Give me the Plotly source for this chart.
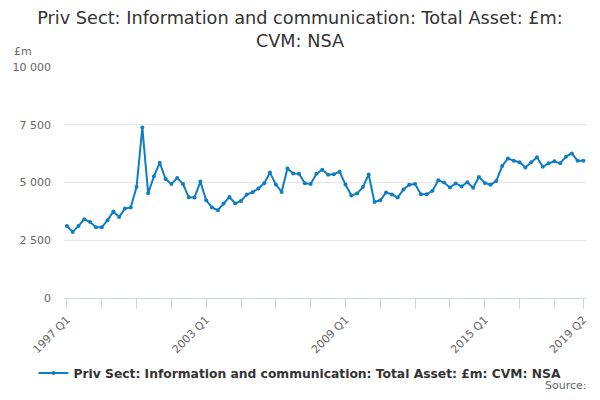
import plotly.graph_objects as go

# quarters 1997 Q1 .. 2019 Q2
quarters = [f"{y} Q{q}" for y in range(1997, 2020) for q in range(1, 5)][:90]

total_asset = [
    3120, 2860, 3120, 3410, 3290, 3060, 3060, 3370, 3740, 3510,
    3870, 3920, 4800, 7380, 4530, 5270, 5860, 5150, 4930, 5200,
    4940, 4360, 4350, 5040, 4230, 3920, 3800, 4090, 4370, 4090,
    4200, 4480, 4580, 4740, 4970, 5430, 4910, 4590, 5610, 5390,
    5375, 4970, 4940, 5375, 5550, 5340, 5360, 5460, 4910, 4440,
    4520, 4800, 5350, 4160, 4230, 4570, 4480, 4350, 4700, 4900,
    4930, 4490, 4490, 4640, 5100, 5000, 4780, 4960, 4830, 5010,
    4770, 5240, 4980, 4900, 5070, 5710, 6040, 5940, 5880, 5650,
    5880, 6090, 5680, 5830, 5920, 5830, 6120, 6260, 5940, 5940,
]

labelled = ["1997 Q1", "2003 Q1", "2009 Q1", "2015 Q1", "2019 Q2"]
tick_cats = quarters[::6] + [quarters[-1]]
tick_text = [q if q in labelled else "" for q in tick_cats]

y_ticks = [0, 2500, 5000, 7500, 10000]
y_text = ["0", "2 500", "5 000", "7 500", "10 000"]

series_name = "Priv Sect: Information and communication: Total Asset: £m: CVM: NSA"
line_color = "#0f7dc2"
font = "DejaVu Sans"

fig = go.Figure()
fig.add_trace(
    go.Scatter(
        x=quarters,
        y=total_asset,
        mode="lines+markers",
        name=series_name,
        line=dict(color=line_color, width=2),
        marker=dict(color=line_color, size=4),
    )
)

fig.update_xaxes(
    type="category",
    range=[-0.5, 89.45],
    automargin=False,
    tickmode="array",
    tickvals=tick_cats,
    ticktext=tick_text,
    tickangle=-45,
    ticks="outside",
    ticklen=10,
    tickcolor="#ccd6eb",
    showline=True,
    linecolor="#ccd6eb",
    showgrid=False,
    tickfont=dict(family=font, size=11, color="#666666"),
)
fig.update_yaxes(
    range=[0, 10000],
    automargin=False,
    tickmode="array",
    tickvals=y_ticks,
    ticktext=y_text,
    showgrid=True,
    gridcolor="#e6e6e6",
    zeroline=False,
    showline=False,
    ticks="",
    ticklabelstandoff=12,
    tickfont=dict(family=font, size=11, color="#666666"),
)

# page body has an 8px margin, so the figure is sized to fit inside it
fig.update_layout(
    width=584,
    height=384,
    plot_bgcolor="white",
    paper_bgcolor="white",
    margin=dict(l=56, r=6, t=59, b=94, autoexpand=False),
    title=dict(
        text="Priv Sect: Information and communication: Total Asset: £m:<br>CVM: NSA",
        x=0.5,
        xanchor="center",
        y=0.958,
        yanchor="top",
        font=dict(family=font, size=17.7, color="#333333"),
    ),
    showlegend=True,
    legend=dict(
        orientation="h",
        x=0.452,
        xanchor="center",
        y=-0.325,
        yanchor="middle",
        itemwidth=30,
        font=dict(family=font, size=12.3, color="#333333", weight="bold"),
    ),
    annotations=[
        dict(
            text="£m",
            xref="paper",
            yref="paper",
            x=-0.0996,
            y=1.065,
            xanchor="left",
            yanchor="middle",
            showarrow=False,
            font=dict(family=font, size=11, color="#666666"),
        ),
        dict(
            text="Source:",
            xref="paper",
            yref="paper",
            x=1.0057,
            y=-0.377,
            xanchor="right",
            yanchor="middle",
            showarrow=False,
            font=dict(family=font, size=11, color="#666666"),
        ),
    ],
)

fig.write_html("out.html")
